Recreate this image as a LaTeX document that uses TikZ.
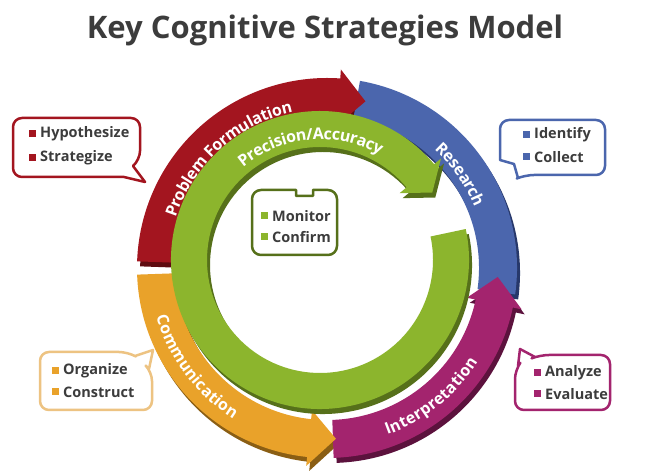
\documentclass[tikz,border=0pt]{standalone}
\usepackage{fontspec}
\setmainfont{Open Sans}
\usetikzlibrary{decorations.text}
\definecolor{cred}{HTML}{A3151F}\definecolor{dred}{HTML}{5E0B10}
\definecolor{cblue}{HTML}{4B66AD}\definecolor{dblue}{HTML}{27386A}
\definecolor{cmag}{HTML}{A3246E}\definecolor{dmag}{HTML}{5C123D}
\definecolor{corg}{HTML}{E9A22A}\definecolor{dorg}{HTML}{8A5E14}
\definecolor{cgrn}{HTML}{8CB52D}\definecolor{dgrn}{HTML}{56701A}
\definecolor{ctxt}{HTML}{3C3C3C}
\newcommand\ringseg[6]{%
 \pgfmathsetmacro\rmid{(#5+#6)/2}\pgfmathsetmacro\rw{#6+9}\pgfmathsetmacro\rv{#5-9}\pgfmathsetmacro\tipa{#3+#4*9}%
 \fill[#1] (#2:#6pt) arc[start angle=#2,end angle=#3,radius=#6pt] -- (#3:\rw pt) -- (\tipa:\rmid pt) -- (#3:\rv pt) -- (#3:#5pt) arc[start angle=#3,end angle=#2,radius=#5pt] -- cycle;}
\newcommand\plainseg[5]{%
 \fill[#1] (#2:#5pt) arc[start angle=#2,end angle=#3,radius=#5pt] -- (#3:#4pt) arc[start angle=#3,end angle=#2,radius=#4pt] -- cycle;}
\tikzset{
 ringtext/.style={decorate,decoration={text along path,text align=center,raise=-5.5pt,
   text={|\color{white}\bfseries\fontsize{16}{16}\selectfont|#1}}},
 box/.style={line width=2.5pt,fill=white,line join=round},
 item/.style={text=ctxt,font=\fontsize{14.5}{14.5}\selectfont\bfseries,anchor=west,inner sep=0pt},
}
\newcommand\bul[3]{\fill[#1] (#2-3.5,#3-3.5) rectangle (#2+3.5,#3+3.5);}
\begin{document}
\begin{tikzpicture}[x=1pt,y=1pt]
\useasboundingbox (0,0) rectangle (651,476);
\fill[white] (0,0) rectangle (651,476);
\node[text=ctxt,font=\fontsize{31}{31}\selectfont\bfseries] (title) at (325,446) {Key Cognitive Strategies Model};
% outer ring
\begin{scope}[shift={(327,208)}]
 \begin{scope}[shift={(3,-5)}]
  \plainseg{dblue}{80}{-8}{152}{190}
  \ringseg{dmag}{-88}{-12}{1}{152}{190}
  \ringseg{dorg}{182}{264}{1}{152}{190}
  \ringseg{dred}{178}{86}{-1}{152}{190}
 \end{scope}
 \plainseg{cblue}{80}{-8}{152}{190}
 \path[ringtext=Research] (70:165pt) arc[start angle=70,end angle=0,radius=165pt];
 \ringseg{cmag}{-88}{-12}{1}{152}{190}
 \path[ringtext=Interpretation] (-92:172pt) arc[start angle=-92,end angle=-10,radius=172pt];
 \ringseg{corg}{182}{264}{1}{152}{190}
 \path[ringtext=Communication] (178:172pt) arc[start angle=178,end angle=256,radius=172pt];
 \ringseg{cred}{178}{86}{-1}{152}{190}
 \path[ringtext=Problem Formulation] (174:165pt) arc[start angle=174,end angle=90,radius=165pt];
\end{scope}
% inner green ring
\begin{scope}[shift={(320,216)}]
 \begin{scope}[shift={(3,-5)}]
  \ringseg{dgrn}{12}{-320}{-1}{113}{149}
 \end{scope}
 \ringseg{cgrn}{12}{-320}{-1}{113}{149}
 \path[ringtext=Precision/Accuracy] (165:126pt) arc[start angle=165,end angle=25,radius=126pt];
\end{scope}
% callout boxes (screen coordinates)
\begin{scope}[shift={(0,476)},yscale=-1]
 % red
 \draw[box,draw=cred] (60,118) [rounded corners=9pt] -- (140,118) -- (140,160) [sharp corners] -- (133,166) -- (145,182) -- (124,177) [rounded corners=9pt] -- (13,177) -- (13,118) -- (60,118);
 \bul{cred}{32}{134}\node[item] (h1) at (40,134) {Hypothesize};
 \bul{cred}{32}{158}\node[item] (h2) at (40,158) {Strategize};
 % blue
 \draw[box,draw=cblue] (550,120) [rounded corners=9pt] -- (605,120) -- (605,175) -- (525,175) [sharp corners] -- (518,178) -- (514,164) -- (500,160) [rounded corners=9pt] -- (500,120) -- (550,120);
 \bul{cblue}{526}{135}\node[item] (b1) at (534,135) {Identify};
 \bul{cblue}{526}{157}\node[item] (b2) at (534,157) {Collect};
 % orange
 \draw[box,draw=corg!80!brown!60!white] (90,352) [rounded corners=9pt] -- (128,352) [sharp corners] -- (135,356) -- (153,350) -- (149,369) [rounded corners=9pt] -- (152,372) -- (152,410) -- (40,410) -- (40,352) -- (90,352);
 \bul{corg}{55}{371}\node[item] (o1) at (63,371) {Organize};
 \bul{corg}{55}{392}\node[item] (o2) at (63,392) {Construct};
 % magenta
 \draw[box,draw=cmag] (570,355) [rounded corners=9pt] -- (610,355) -- (610,410) -- (515,410) -- (515,370) [sharp corners] -- (518,366) -- (520,349) -- (535,357) [rounded corners=9pt] -- (540,355) -- (570,355);
 \bul{cmag}{537}{373}\node[item] (m1) at (545,373) {Analyze};
 \bul{cmag}{537}{394}\node[item] (m2) at (545,394) {Evaluate};
 % green center
 \draw[box,draw=dgrn] (270,190) [rounded corners=9pt] -- (252,190) -- (252,255) -- (337,255) -- (337,190) [sharp corners] -- (313,190) -- (313,196) -- (296,196) -- (296,190) [rounded corners=9pt] -- (270,190);
 \bul{cgrn}{264}{216}\node[item] (g1) at (272,216) {Monitor};
 \bul{cgrn}{264}{237}\node[item] (g2) at (272,237) {Confirm};
\end{scope}
\end{tikzpicture}
\end{document}
